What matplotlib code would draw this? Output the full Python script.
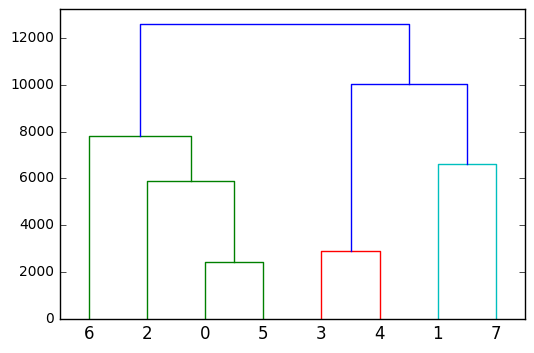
import matplotlib
matplotlib.use('Agg')
import matplotlib.pyplot as plt

# 合并表：左子节点、右子节点、合并高度（叶子编号0-7，新簇从8开始）
left_ids = [0, 3, 2, 1, 6, 9, 12]
right_ids = [5, 4, 8, 7, 10, 11, 13]
heights = [2430, 2900, 5890, 6620, 7810, 10040, 12600]
n_leaves = 8
group_colors = ['g', 'r', 'c']
above_color = 'b'

plt.style.use('classic')
fig = plt.figure(figsize=(5.34, 3.53), dpi=100, facecolor='white')
ax = fig.add_axes([0.112, 0.0963, 0.871, 0.878])

# 先遍历得到叶子顺序
order = []
def walk(c):
    if c < n_leaves:
        order.append(c)
    else:
        k = c - n_leaves
        walk(left_ids[k]); walk(right_ids[k])
root = n_leaves + len(heights) - 1
walk(root)

threshold = 0.7 * max(heights)
color_idx = [0]

def draw(c, col=None):
    # 返回 (x, y) 节点位置
    if c < n_leaves:
        return 5 + 10 * order.index(c), 0
    k = c - n_leaves
    h = heights[k]
    if col is None and h < threshold:
        col = group_colors[color_idx[0] % len(group_colors)]
        color_idx[0] += 1
        mine = col
    else:
        mine = col if col is not None else above_color
    xl, yl = draw(left_ids[k], col)
    xr, yr = draw(right_ids[k], col)
    ax.plot([xl, xl, xr, xr], [yl, h, h, yr], color=mine, lw=1)
    return (xl + xr) / 2, h

draw(root)

ax.set_xlim(0, 10 * n_leaves)
ax.set_ylim(0, max(heights) * 1.05)
ax.set_xticks([5 + 10 * i for i in range(n_leaves)])
ax.set_xticklabels([str(o) for o in order], fontsize=12)
ax.tick_params(axis='x', bottom=False, top=False)
ax.tick_params(axis='y', labelsize=10)
ax.set_yticks(range(0, 12001, 2000))
ax.set_facecolor('white')
fig.savefig('out.png', dpi=100, facecolor='white')
